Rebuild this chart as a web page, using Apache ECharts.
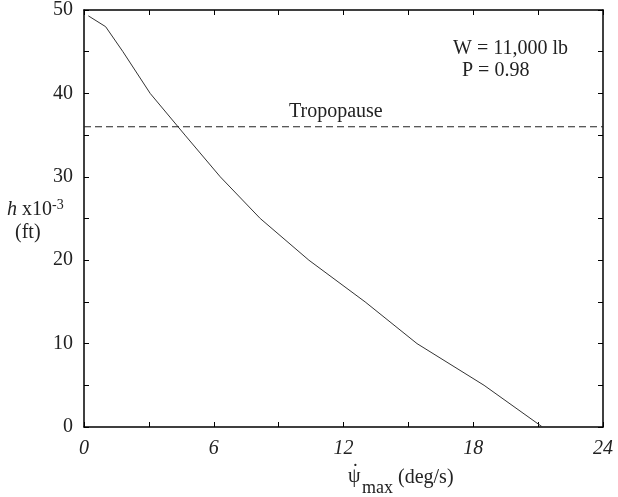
<!DOCTYPE html>
<html>
<head>
<meta charset="utf-8">
<script src="https://cdn.jsdelivr.net/npm/echarts@6/dist/echarts.min.js"></script>
<style>
html, body { margin: 0; background: #fff; }
#container { width: 618px; height: 497px; }
</style>
</head>
<body>
<div id="container"></div>
<script>
// max turn rate (deg/s) vs altitude h x10^-3 (ft)
var psiMax = [0.2, 1.0, 1.8, 3.06, 4.67, 6.3, 8.15, 10.4, 13.0, 15.4, 18.5, 21.2];
var altitude = [49.3, 48.0, 45, 40, 35, 30, 25, 20, 15, 10, 5, 0];
var tropopause = 36;
var xLabelStep = 6;   // labelled x ticks: 0, 6, 12, 18, 24
var yLabelStep = 10;  // labelled y ticks: 0, 10, ..., 50

var serif = '"Liberation Serif", "Times New Roman", serif';

var curve = psiMax.map(function (x, i) { return [x, altitude[i]]; });
var tropoLine = [[0, tropopause], [24, tropopause]];

var myChart = echarts.init(document.getElementById('container'));

function baseAxis(extra) {
    var ax = {
        type: 'value',
        axisLine: { show: true, onZero: false, lineStyle: { color: '#000', width: 1.5 } },
        axisTick: { show: true, inside: true, length: 5, lineStyle: { color: '#000', width: 1 } },
        splitLine: { show: false }
    };
    return Object.assign(ax, extra);
}

myChart.setOption({
    animation: false,
    backgroundColor: '#fff',
    grid: { left: 84, right: 15, top: 10, bottom: 70 },
    xAxis: [
        baseAxis({
            min: 0, max: 24, interval: 3, position: 'bottom',
            axisLabel: {
                margin: 12, fontSize: 20, fontStyle: 'italic', fontFamily: serif, color: '#222',
                formatter: function (v) { return v % xLabelStep === 0 ? String(v) : ''; }
            }
        }),
        baseAxis({
            min: 0, max: 24, interval: 3, position: 'top',
            axisLabel: { show: false }
        })
    ],
    yAxis: [
        baseAxis({
            min: 0, max: 50, interval: 5, position: 'left',
            axisLabel: {
                margin: 11, fontSize: 20, fontFamily: serif, color: '#222',
                formatter: function (v) { return v % yLabelStep === 0 ? String(v) : ''; }
            }
        }),
        baseAxis({
            min: 0, max: 50, interval: 5, position: 'right',
            axisLabel: { show: false }
        })
    ],
    series: [
        {
            name: 'psi max',
            type: 'line',
            data: curve,
            symbol: 'none',
            smooth: false,
            lineStyle: { color: '#333', width: 1 }
        },
        {
            name: 'Tropopause',
            type: 'line',
            data: tropoLine,
            symbol: 'none',
            lineStyle: { color: '#222', width: 1, type: [7, 4] }
        }
    ],
    graphic: [
        { type: 'text', left: 289, top: 102,
          style: { text: 'Tropopause', font: '20px ' + serif, fill: '#222' } },
        { type: 'text', left: 453, top: 39,
          style: { text: 'W = 11,000 lb', font: '20px ' + serif, fill: '#222' } },
        { type: 'text', left: 462, top: 61,
          style: { text: 'P = 0.98', font: '20px ' + serif, fill: '#222' } },
        { type: 'text', left: 7, top: 198,
          style: {
              text: '{i|h} x10{sup|-3}',
              rich: {
                  i: { fontSize: 20, fontStyle: 'italic', fontFamily: serif, fill: '#222' },
                  sup: { fontSize: 14, fontFamily: serif, fill: '#222', padding: [0, 0, 10, 0] }
              },
              font: '20px ' + serif, fill: '#222'
          } },
        { type: 'text', left: 15, top: 223,
          style: { text: '(ft)', font: '20px ' + serif, fill: '#222' } },
        { type: 'text', left: 348, top: 467,
          style: { text: 'ψ', font: '20px ' + serif, fill: '#222' } },
        { type: 'text', left: 352, top: 463,
          style: { text: '˙', font: '20px ' + serif, fill: '#222' } },
        { type: 'text', left: 362, top: 479,
          style: { text: 'max', font: '18px ' + serif, fill: '#222' } },
        { type: 'text', left: 398, top: 468,
          style: { text: '(deg/s)', font: '20px ' + serif, fill: '#222' } }
    ]
});
</script>
</body>
</html>
